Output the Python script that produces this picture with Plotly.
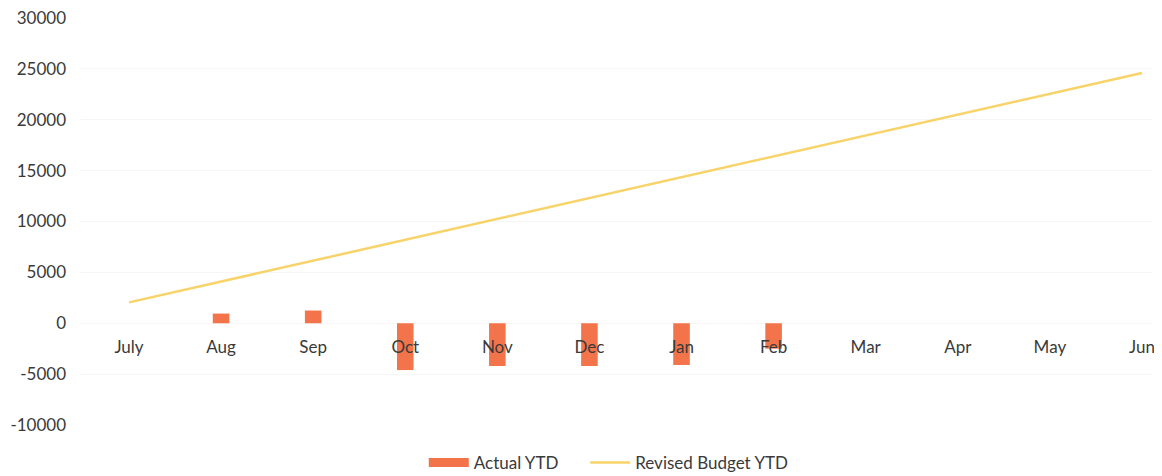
import plotly.graph_objects as go

months = ["July", "Aug", "Sep", "Oct", "Nov", "Dec", "Jan", "Feb", "Mar", "Apr", "May", "Jun"]
actual_ytd = [None, 950, 1250, -4600, -4200, -4200, -4100, -2500, None, None, None, None]
revised_budget_ytd = [2050, 4100, 6150, 8200, 10250, 12300, 14350, 16400, 18450, 20500, 22550, 24600]
y_ticks = [-10000, -5000, 0, 5000, 10000, 15000, 20000, 25000, 30000]
y_tick_text = [str(v) for v in y_ticks]

font_family = "Lato, 'Open Sans', sans-serif"
bar_color = "#F3744A"
line_color = "#F7D36A"
text_color = "#3a3a3a"
nbsp = "\u00a0"
xs = list(range(len(months)))

fig = go.Figure()
fig.add_trace(go.Bar(
    x=xs, y=actual_ytd, name="Actual YTD",
    marker=dict(color=bar_color, line=dict(width=0)),
    width=0.18, showlegend=False,
))
# legend entry styled like the reference's wide bar swatch
fig.add_trace(go.Scatter(
    x=[None], y=[None], name="Actual YTD" + nbsp * 5, mode="lines",
    line=dict(color=bar_color, width=9),
))
fig.add_trace(go.Scatter(
    x=xs, y=revised_budget_ytd, name="Revised Budget YTD",
    mode="lines", line=dict(color=line_color, width=2.5),
))

y_min, y_max = -10000, 30000
zero_frac = (0 - y_min) / (y_max - y_min)

fig.update_layout(
    width=1162, height=476,
    margin=dict(l=72, r=18, t=10, b=59),
    paper_bgcolor="white", plot_bgcolor="white",
    font=dict(family=font_family, size=17, color=text_color),
    showlegend=True,
    legend=dict(orientation="h", xref="container", yref="container",
                x=0.517, xanchor="center", y=0.044, yanchor="middle",
                font=dict(size=17, color=text_color), itemwidth=40),
    xaxis=dict(
        tickmode="array", tickvals=xs, ticktext=months,
        range=[-0.532, 11.109],
        showgrid=False, zeroline=False, showline=False, ticks="",
        anchor="free", position=zero_frac,
        tickfont=dict(size=17, color=text_color),
        ticklabelstandoff=12, ticklabeloverflow="allow",
        automargin=False,
    ),
    yaxis=dict(
        range=[y_min, y_max], tickmode="array", tickvals=y_ticks, ticktext=y_tick_text,
        showgrid=True, gridcolor="#F6F6F6", gridwidth=1,
        zeroline=False, showline=False, ticks="",
        tickfont=dict(size=17, color=text_color),
        ticklabelstandoff=13, ticklabeloverflow="allow", automargin=False,
    ),
    bargap=0.8,
)

fig.write_html("out.html")
